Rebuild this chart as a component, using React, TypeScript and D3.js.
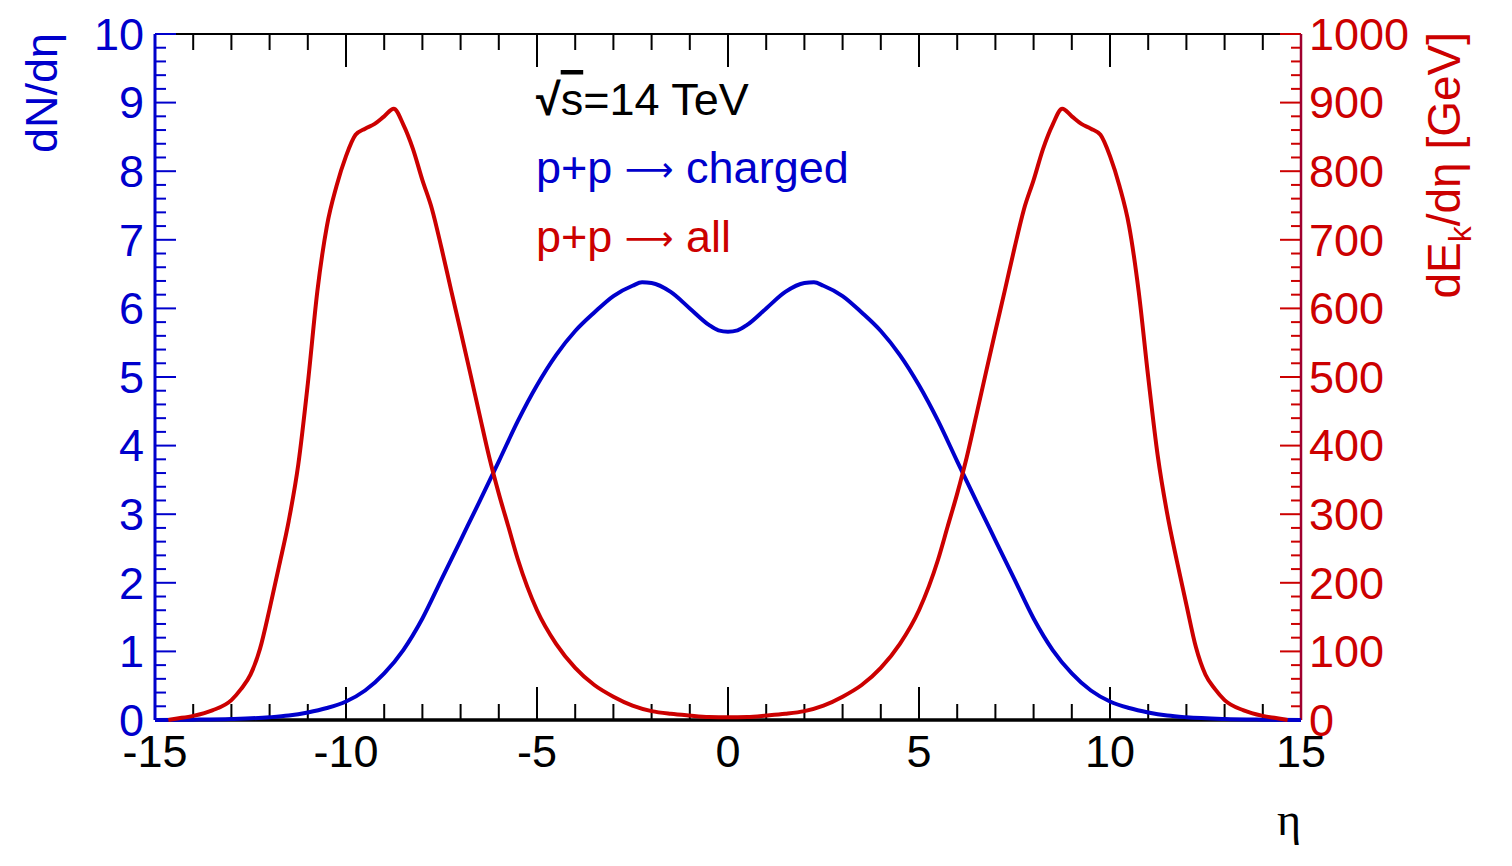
import * as d3 from "d3";

const WIDTH = 1512;
const HEIGHT = 866;
const MARGIN = { top: 34, right: 211, bottom: 146, left: 155 };

const BLUE = "#0000cc";
const RED = "#cc0000";
const FONT = "'Liberation Sans', Arial, Helvetica, sans-serif";

// dN/deta of charged particles (left axis)
const ETA_N = [
  -15, -14, -13, -12, -11.5, -11, -10.5, -10, -9.5, -9, -8.5, -8, -7.5, -7, -6.5, -6,
  -5.5, -5, -4.5, -4, -3.5, -3, -2.5, -2.25, -2, -1.5, -1, -0.5, -0.25, 0,
  0.25, 0.5, 1, 1.5, 2, 2.25, 2.5, 3, 3.5, 4, 4.5, 5, 5.5, 6, 6.5, 7, 7.5, 8,
  8.5, 9, 9.5, 10, 10.5, 11, 11.5, 12, 13, 14, 15,
];
const DN_DETA = [
  0, 0.005, 0.015, 0.04, 0.065, 0.11, 0.175, 0.27, 0.43, 0.68, 1.02, 1.48, 2.05, 2.62, 3.19, 3.77,
  4.36, 4.88, 5.32, 5.67, 5.94, 6.18, 6.33, 6.38, 6.37, 6.24, 6.0, 5.76, 5.68, 5.66,
  5.68, 5.76, 6.0, 6.24, 6.37, 6.38, 6.33, 6.18, 5.94, 5.67, 5.32, 4.88, 4.36, 3.77, 3.19, 2.62, 2.05, 1.48,
  1.02, 0.68, 0.43, 0.27, 0.175, 0.11, 0.065, 0.04, 0.015, 0.005, 0,
];

// dE_k/deta of all particles in GeV (right axis)
const ETA_E = [
  -14.65, -14.5, -14, -13.5, -13, -12.75, -12.5, -12.25, -12, -11.75, -11.5, -11.25, -11,
  -10.75, -10.5, -10.25, -10, -9.75, -9.5, -9.25, -9, -8.75, -8.5, -8.25, -8, -7.75, -7.5,
  -7.25, -7, -6.75, -6.5, -6.25, -6, -5.75, -5.5, -5, -4.5, -4, -3.5, -3, -2.5, -2, -1.5,
  -1, -0.5, 0,
  0.5, 1, 1.5, 2, 2.5, 3, 3.5, 4, 4.5, 5, 5.5, 5.75, 6, 6.25, 6.5, 6.75, 7, 7.25, 7.5,
  7.75, 8, 8.25, 8.5, 8.75, 9, 9.25, 9.5, 9.75, 10, 10.25, 10.5, 10.75, 11, 11.25, 11.5,
  11.75, 12, 12.25, 12.5, 12.75, 13, 13.5, 14, 14.5, 14.65,
];
const DE_DETA = [
  0, 1.5, 6, 14, 29, 45, 66, 104, 162, 225, 290, 372, 490,
  625, 720, 778, 822, 853, 862, 869, 880, 891, 868, 833, 787, 745, 688,
  627, 567, 506, 444, 383, 330, 282, 234, 160, 111, 76, 51, 34, 21, 13, 9,
  6.5, 4.5, 4,
  4.5, 6.5, 9, 13, 21, 34, 51, 76, 111, 160, 234, 282, 330, 383, 444, 506, 567, 627, 688,
  745, 787, 833, 868, 891, 880, 869, 862, 853, 822, 778, 720, 625, 500, 385, 300,
  232, 168, 106, 66, 45, 29, 14, 6, 1.5, 0,
];

export default function App() {
  const x0 = MARGIN.left;
  const x1 = WIDTH - MARGIN.right;
  const y0 = HEIGHT - MARGIN.bottom;
  const y1 = MARGIN.top;

  const x = d3.scaleLinear().domain([-15, 15]).range([x0, x1]);
  const yN = d3.scaleLinear().domain([0, 10]).range([y0, y1]);
  const yE = d3.scaleLinear().domain([0, 1000]).range([y0, y1]);

  const xMajor = x.ticks(6);
  const xMinor = x.ticks(30).filter((t) => !xMajor.includes(t));
  const nMajor = yN.ticks(10);
  const nMinor = yN.ticks(50).filter((t) => !nMajor.some((m) => Math.abs(m - t) < 1e-9));
  const eMajor = yE.ticks(10);
  const eMinor = yE.ticks(50).filter((t) => !eMajor.includes(t));

  const lineN = d3
    .line<number>()
    .x((_, i) => x(ETA_N[i]))
    .y((d) => yN(d))
    .curve(d3.curveMonotoneX);
  const lineE = d3
    .line<number>()
    .x((_, i) => x(ETA_E[i]))
    .y((d) => yE(d))
    .curve(d3.curveMonotoneX);

  const arrow = (
    <tspan fontFamily="'DejaVu Sans', sans-serif" fontSize={34} dy={-2}>
      ⟶
    </tspan>
  );

  return (
    <svg
      width={WIDTH}
      height={HEIGHT}
      style={{ position: "absolute", left: 0, top: 0, display: "block", background: "#fff" }}
      fontFamily={FONT}
    >
      {/* frame */}
      <line x1={x0} x2={x1} y1={y1} y2={y1} stroke="#000" strokeWidth={2} />
      <line x1={x0} x2={x1} y1={y0} y2={y0} stroke="#000" strokeWidth={3.5} />

      {/* x ticks bottom + top */}
      {xMajor.map((t) => (
        <g key={`xm-${t}`}>
          <line x1={x(t)} x2={x(t)} y1={y0} y2={y0 - 33} stroke="#000" strokeWidth={2} />
          <line x1={x(t)} x2={x(t)} y1={y1} y2={y1 + 33} stroke="#000" strokeWidth={2} />
          <text x={x(t)} y={y0 + 47} textAnchor="middle" fontSize={45} fill="#000">
            {String(t)}
          </text>
        </g>
      ))}
      {xMinor.map((t) => (
        <g key={`xn-${t}`}>
          <line x1={x(t)} x2={x(t)} y1={y0} y2={y0 - 16} stroke="#000" strokeWidth={2} />
          <line x1={x(t)} x2={x(t)} y1={y1} y2={y1 + 16} stroke="#000" strokeWidth={2} />
        </g>
      ))}
      <text x={x1} y={835} textAnchor="end" fontSize={46} fontFamily="'Liberation Serif', 'DejaVu Serif', serif" fill="#000">
        η
      </text>

      {/* left axis */}
      <line x1={x0} x2={x0} y1={y0} y2={y1} stroke={BLUE} strokeWidth={3} />
      {nMajor.map((t) => (
        <g key={`nm-${t}`}>
          <line x1={x0} x2={x0 + 21} y1={yN(t)} y2={yN(t)} stroke={BLUE} strokeWidth={2} />
          <text x={144} y={yN(t)} dy="0.35em" textAnchor="end" fontSize={45} fill={BLUE}>
            {t}
          </text>
        </g>
      ))}
      {nMinor.map((t) => (
        <line key={`nn-${t}`} x1={x0} x2={x0 + 11} y1={yN(t)} y2={yN(t)} stroke={BLUE} strokeWidth={2} />
      ))}
      <text transform={`translate(57 ${y1 - 1}) rotate(-90)`} textAnchor="end" fontSize={45} fill={BLUE}>
        dN/dη
      </text>

      {/* right axis */}
      {eMajor.map((t) => (
        <g key={`em-${t}`}>
          <line x1={x1} x2={x1 - 21} y1={yE(t)} y2={yE(t)} stroke={RED} strokeWidth={2} />
          <text x={1309} y={yE(t)} dy="0.35em" textAnchor="start" fontSize={45} fill={RED}>
            {t}
          </text>
        </g>
      ))}
      {eMinor.map((t) => (
        <line key={`en-${t}`} x1={x1} x2={x1 - 10} y1={yE(t)} y2={yE(t)} stroke={RED} strokeWidth={2} />
      ))}
      <line x1={x1} x2={x1} y1={y0} y2={y1} stroke="#a0002e" strokeWidth={2.5} />
      <text transform={`translate(1460 ${y1 - 2}) rotate(-90)`} textAnchor="end" fontSize={46} fill={RED}>
        dE
        <tspan fontSize={32} dy={11}>k</tspan>
        <tspan dy={-11}>/dη [GeV]</tspan>
      </text>

      {/* curves */}
      <path d={lineN(DN_DETA) || ""} fill="none" stroke={BLUE} strokeWidth={4} strokeLinejoin="round" />
      <path d={lineE(DE_DETA) || ""} fill="none" stroke={RED} strokeWidth={4} strokeLinejoin="round" />

      {/* legend */}
      <text x={536} y={115} fontSize={45} fill="#000">
        <tspan fontWeight="bold">√</tspan>
        <tspan style={{ textDecoration: "overline" }}>s</tspan>
        <tspan>=14 TeV</tspan>
      </text>
      <text x={536} y={183} fontSize={45} fill={BLUE}>
        <tspan>p+p </tspan>
        {arrow}
        <tspan dy={2}> charged</tspan>
      </text>
      <text x={536} y={252} fontSize={45} fill={RED}>
        <tspan>p+p </tspan>
        {arrow}
        <tspan dy={2}> all</tspan>
      </text>
    </svg>
  );
}
